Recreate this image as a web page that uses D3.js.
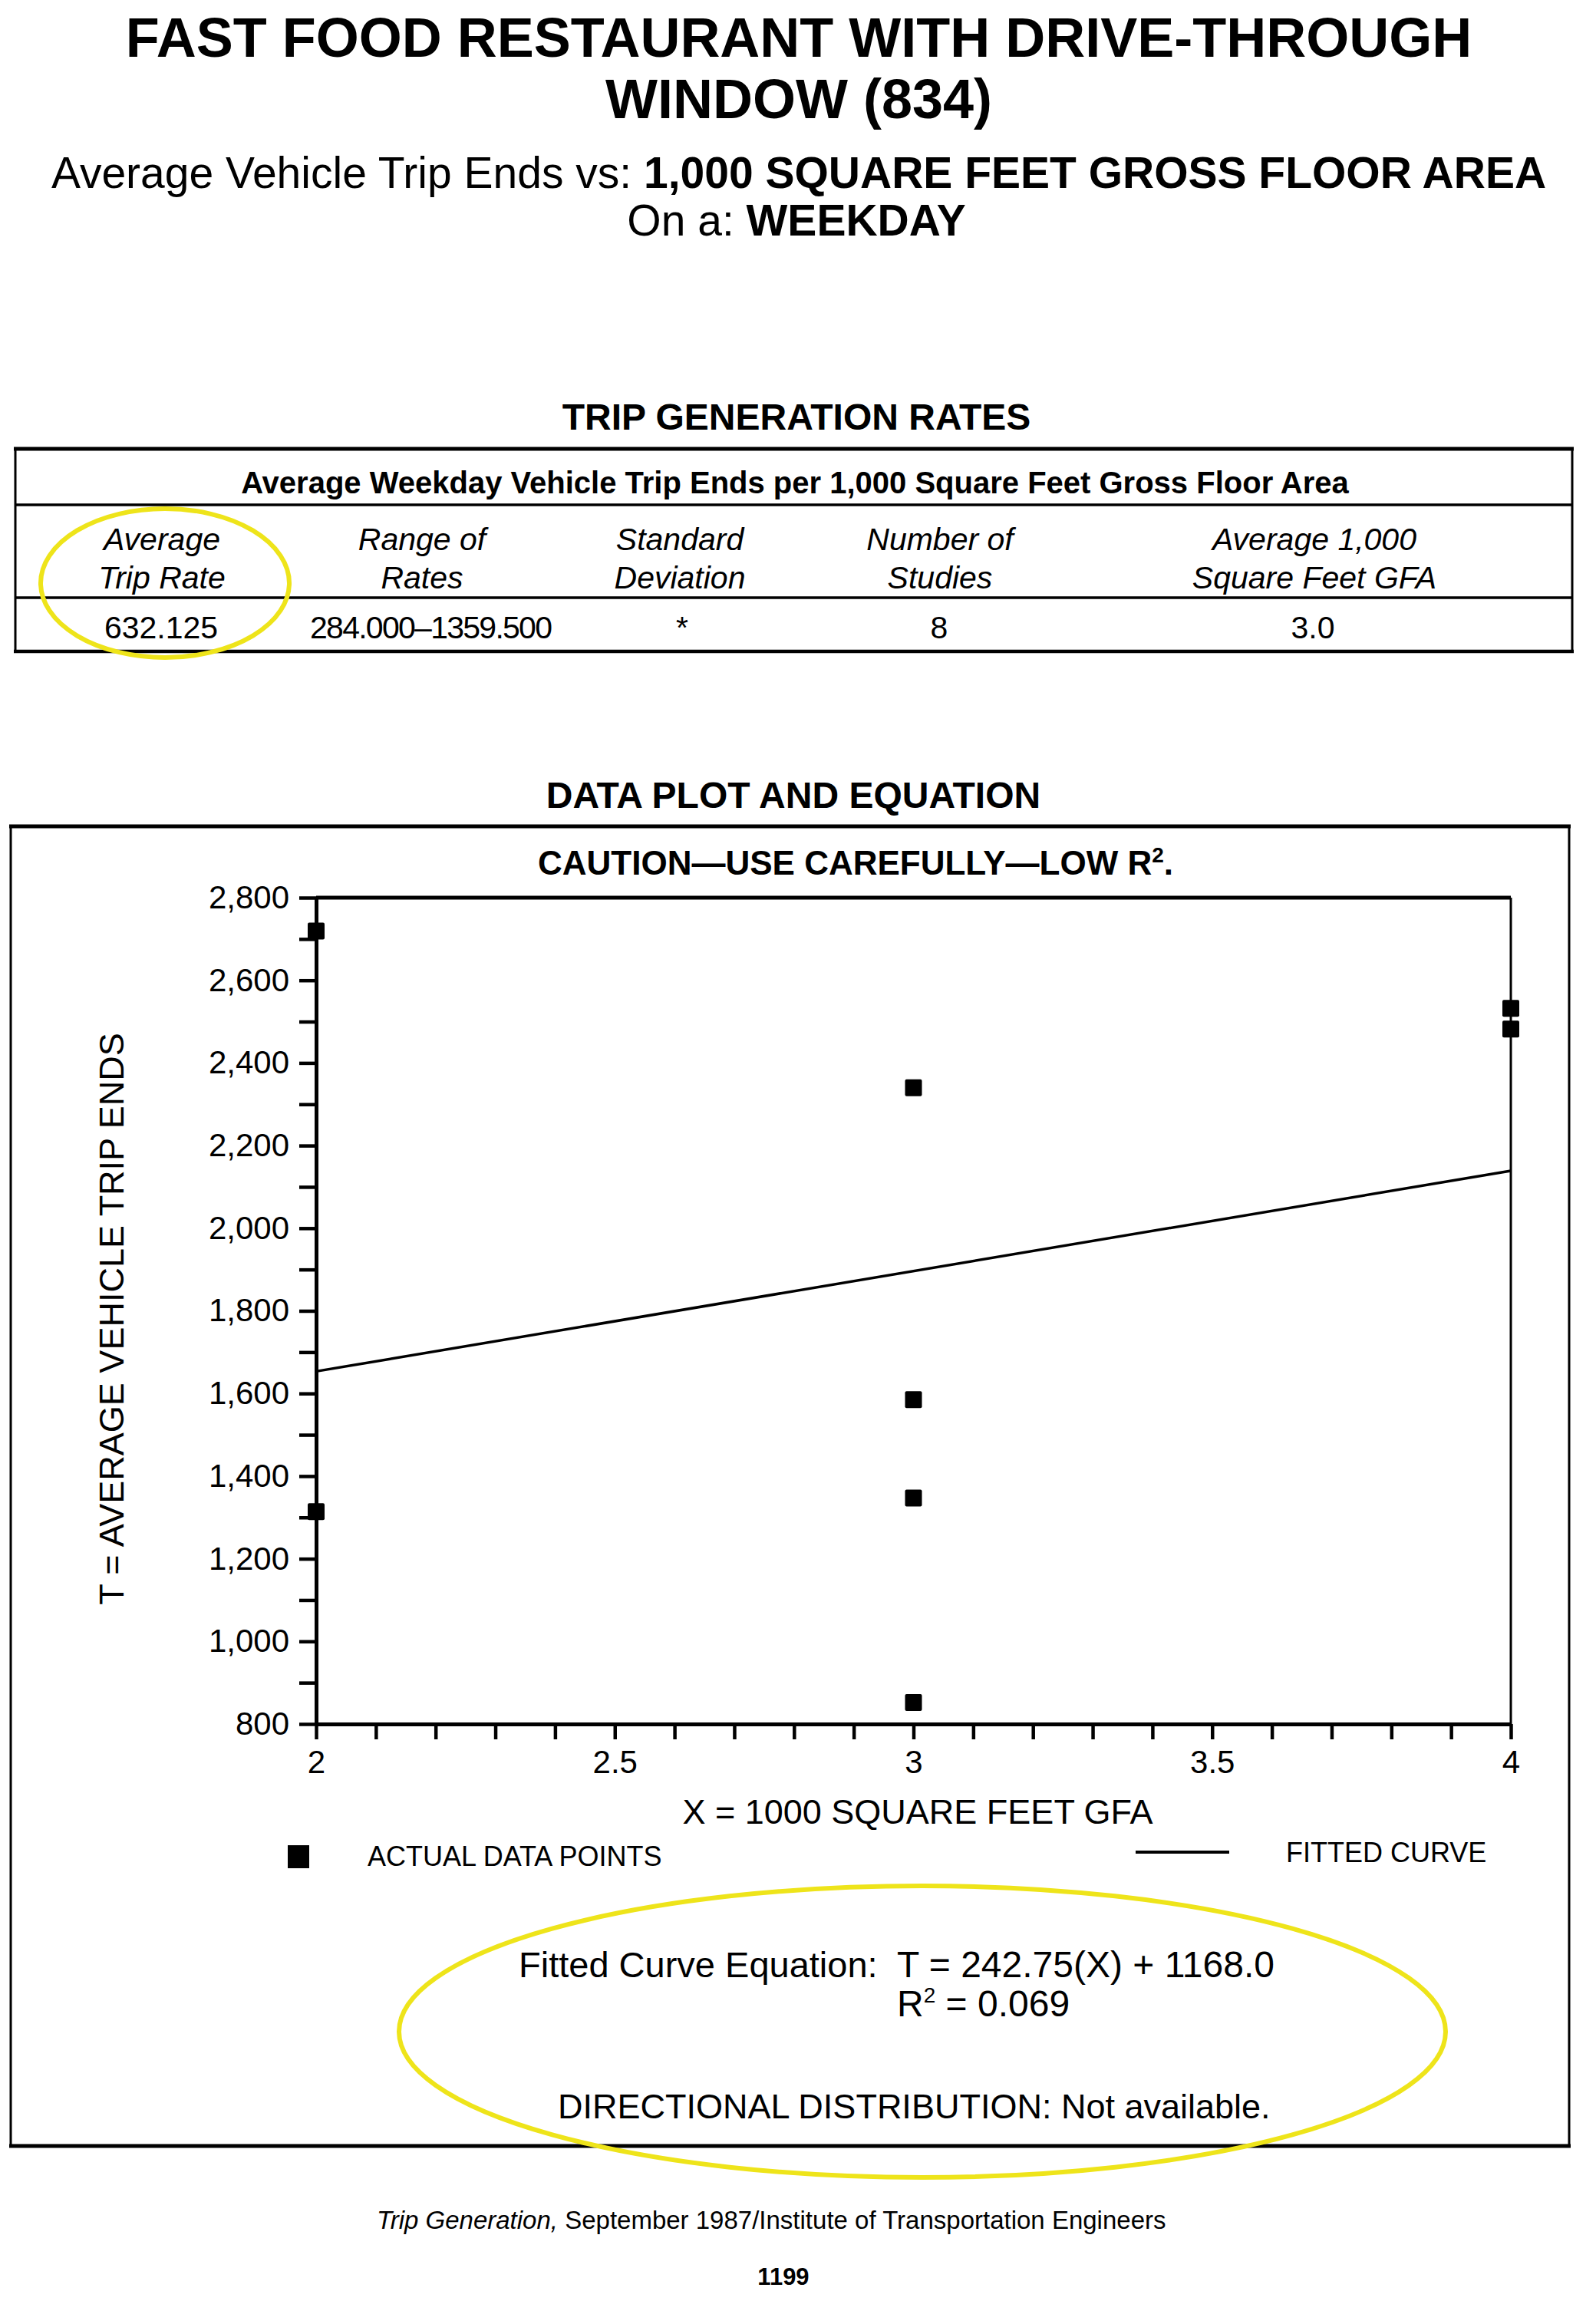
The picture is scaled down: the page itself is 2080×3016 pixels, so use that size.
<!DOCTYPE html>
<html>
<head>
<meta charset="utf-8">
<script src="https://cdn.jsdelivr.net/npm/d3@7"></script>
<style>
body { margin: 0; background: #fff; }
text { font-family: "Liberation Sans", Arial, Helvetica, sans-serif; fill: #000; }
.axis path, .axis line { stroke: #000; }
.axis text { font-size: 42px; fill: #000; font-family: "Liberation Sans", Arial, sans-serif; }
</style>
</head>
<body>
<div id="chart"></div>
<script>
//Data
var areaX = [2, 2, 3, 3, 3, 3, 4, 4];
var tripEnds = [2719, 1314, 2340, 1585, 1347, 852, 2532, 2482];
var fitSlope = 242.75;
var fitIntercept = 1168.0;

var yTicks = [800, 900, 1000, 1100, 1200, 1300, 1400, 1500, 1600, 1700, 1800, 1900, 2000, 2100, 2200, 2300, 2400, 2500, 2600, 2700, 2800];
var yLabelled = [800, 1000, 1200, 1400, 1600, 1800, 2000, 2200, 2400, 2600, 2800];
var xTicks = [2, 2.1, 2.2, 2.3, 2.4, 2.5, 2.6, 2.7, 2.8, 2.9, 3, 3.1, 3.2, 3.3, 3.4, 3.5, 3.6, 3.7, 3.8, 3.9, 4];
var xLabelled = [2, 2.5, 3, 3.5, 4];

var tableHeads = [["Average", "Trip Rate"], ["Range of", "Rates"], ["Standard", "Deviation"], ["Number of", "Studies"], ["Average 1,000", "Square Feet GFA"]];
var tableValues = ["632.125", "284.000\u20131359.500", "*", "8", "3.0"];

//Set up page
var svgWidth = 2080;
var svgHeight = 3016;

var svg = d3.select("#chart").append("svg")
    .attr("width", svgWidth)
    .attr("height", svgHeight);

svg.append("rect").attr("width", svgWidth).attr("height", svgHeight).attr("fill", "#fff");

function addText(x, y, size, weight, str, anchor, style) {
    return svg.append("text")
        .attr("x", x)
        .attr("y", y)
        .attr("font-size", size + "px")
        .attr("font-weight", weight || "normal")
        .attr("font-style", style || "normal")
        .attr("text-anchor", anchor || "middle")
        .text(str);
}

function addLine(x1, y1, x2, y2, w) {
    svg.append("line")
        .attr("x1", x1).attr("y1", y1)
        .attr("x2", x2).attr("y2", y2)
        .attr("stroke", "#000")
        .attr("stroke-width", w);
}

//Titles
addText(1041, 74, 72, "bold", "FAST FOOD RESTAURANT WITH DRIVE-THROUGH");
addText(1041, 154, 72, "bold", "WINDOW (834)");

var sub = svg.append("text")
    .attr("x", 1041).attr("y", 245)
    .attr("font-size", "57px")
    .attr("text-anchor", "middle");
sub.append("tspan").text("Average Vehicle Trip Ends vs: ");
sub.append("tspan").attr("font-weight", "bold").text("1,000 SQUARE FEET GROSS FLOOR AREA");

var sub2 = svg.append("text")
    .attr("x", 1038).attr("y", 307)
    .attr("font-size", "57px")
    .attr("text-anchor", "middle");
sub2.append("tspan").text("On a: ");
sub2.append("tspan").attr("font-weight", "bold").text("WEEKDAY");

//Trip generation table
addText(1038, 560, 48, "bold", "TRIP GENERATION RATES");

var tableLeft = 20, tableRight = 2049;
addLine(tableLeft - 2, 585, tableRight + 2, 585, 5);
addLine(tableLeft, 658, tableRight, 658, 3.5);
addLine(tableLeft, 779, tableRight, 779, 3.5);
addLine(tableLeft - 2, 849, tableRight + 2, 849, 4.5);
addLine(tableLeft, 585, tableLeft, 849, 3);
addLine(tableRight, 585, tableRight, 849, 3);

addText(1036, 643, 40, "bold", "Average Weekday Vehicle Trip Ends per 1,000 Square Feet Gross Floor Area");

var colCenters = [211, 550, 886, 1225, 1713];
var valCenters = [210, 562, 889, 1224, 1711];

tableHeads.forEach(function(h, i) {
    addText(colCenters[i], 717, 41, "normal", h[0], "middle", "italic");
    addText(colCenters[i], 767, 41, "normal", h[1], "middle", "italic");
});

tableValues.forEach(function(v, i) {
    var t = addText(valCenters[i], 832, 41, "normal", v);
    if (i === 1) {
        t.attr("textLength", 316).attr("lengthAdjust", "spacing");
    }
});

//Data plot section
addText(1034, 1053, 48, "bold", "DATA PLOT AND EQUATION");

var boxLeft = 14, boxRight = 2045, boxTop = 1077, boxBottom = 2797;
addLine(boxLeft - 2, boxTop, boxRight + 2, boxTop, 5);
addLine(boxLeft - 2, boxBottom, boxRight + 2, boxBottom, 5);
addLine(boxLeft, boxTop, boxLeft, boxBottom, 3);
addLine(boxRight, boxTop, boxRight, boxBottom, 3);

var caution = svg.append("text")
    .attr("x", 1115).attr("y", 1140)
    .attr("font-size", "44px")
    .attr("font-weight", "bold")
    .attr("text-anchor", "middle");
caution.append("tspan").text("CAUTION\u2014USE CAREFULLY\u2014LOW R");
caution.append("tspan").attr("font-size", "28px").attr("dy", "-16").text("2");
caution.append("tspan").attr("dy", "16").text(".");

//Scales
var plotLeft = 412, plotRight = 1969, plotTop = 1170, plotBottom = 2247;

var xLinearScale = d3.scaleLinear()
    .domain([2, 4])
    .range([plotLeft, plotRight]);

var yLinearScale = d3.scaleLinear()
    .domain([800, 2800])
    .range([plotBottom, plotTop]);

var commaFormat = d3.format(",");

var leftAxis = d3.axisLeft(yLinearScale)
    .tickValues(yTicks)
    .tickSize(22)
    .tickSizeOuter(0)
    .tickPadding(13)
    .tickFormat(function(d) { return yLabelled.indexOf(d) >= 0 ? commaFormat(d) : ""; });

var bottomAxis = d3.axisBottom(xLinearScale)
    .tickValues(xTicks)
    .tickSize(20)
    .tickSizeOuter(0)
    .tickPadding(14)
    .tickFormat(function(d) { return xLabelled.indexOf(d) >= 0 ? d3.format("")(d) : ""; });

var chartGroup = svg.append("g");

//Frame top and right
chartGroup.append("line")
    .attr("x1", plotLeft).attr("x2", plotRight)
    .attr("y1", yLinearScale(2800)).attr("y2", yLinearScale(2800))
    .attr("stroke", "#000").attr("stroke-width", 5);
chartGroup.append("line")
    .attr("x1", plotRight).attr("x2", plotRight)
    .attr("y1", yLinearScale(2800)).attr("y2", yLinearScale(800))
    .attr("stroke", "#000").attr("stroke-width", 3);

var yAxis = chartGroup.append("g")
    .classed("axis", true)
    .attr("transform", `translate(${plotLeft}, 0)`)
    .call(leftAxis);

var xAxis = chartGroup.append("g")
    .classed("axis", true)
    .attr("transform", `translate(0, ${plotBottom})`)
    .call(bottomAxis);

chartGroup.selectAll(".axis path").attr("stroke-width", 5);
chartGroup.selectAll(".axis line").attr("stroke-width", 4.5);

//Fitted line
var fitLine = d3.line()
    .x(d => xLinearScale(d))
    .y(d => yLinearScale(fitSlope * d + fitIntercept));

chartGroup.append("path")
    .datum([2, 4])
    .attr("d", fitLine)
    .attr("fill", "none")
    .attr("stroke", "#000")
    .attr("stroke-width", 3.5);

//Data points
var markSize = 22;
chartGroup.selectAll(".pt")
    .data(areaX)
    .enter()
    .append("rect")
    .classed("pt", true)
    .attr("x", d => xLinearScale(d) - markSize / 2)
    .attr("y", (d, i) => yLinearScale(tripEnds[i]) - markSize / 2)
    .attr("width", markSize)
    .attr("height", markSize)
    .attr("rx", 2)
    .attr("fill", "#000");

//Axis titles
svg.append("text")
    .attr("transform", "translate(161, 1719) rotate(-90)")
    .attr("font-size", "45px")
    .attr("text-anchor", "middle")
    .text("T = AVERAGE VEHICLE TRIP ENDS");

addText(1196, 2377, 45, "normal", "X = 1000 SQUARE FEET GFA");

//Legend
svg.append("rect")
    .attr("x", 375).attr("y", 2405)
    .attr("width", 28).attr("height", 30)
    .attr("fill", "#000");
addText(479, 2432, 36, "normal", "ACTUAL DATA POINTS", "start");
addLine(1480, 2414, 1602, 2414, 4);
addText(1676, 2427, 36, "normal", "FITTED CURVE", "start");

//Equation
addText(676, 2577, 47, "normal", "Fitted Curve Equation:", "start");
addText(1169, 2577, 48, "normal", "T = 242.75(X) + 1168.0", "start");
var r2 = svg.append("text")
    .attr("x", 1169).attr("y", 2628)
    .attr("font-size", "48px");
r2.append("tspan").text("R");
r2.append("tspan").attr("font-size", "28px").attr("dy", "-18").text("2");
r2.append("tspan").attr("dy", "18").text(" = 0.069");

addText(727, 2761, 45, "normal", "DIRECTIONAL DISTRIBUTION: Not available.", "start");

//Footer
var foot = svg.append("text")
    .attr("x", 491).attr("y", 2905)
    .attr("font-size", "33px");
foot.append("tspan").attr("font-style", "italic").text("Trip Generation,");
foot.append("tspan").text(" September 1987/Institute of Transportation Engineers");

addText(1021, 2978, 31, "bold", "1199");

//Yellow highlight ellipses
svg.append("ellipse")
    .attr("cx", 215).attr("cy", 760)
    .attr("rx", 162).attr("ry", 97)
    .attr("fill", "none")
    .attr("stroke", "#eee41a")
    .attr("stroke-width", 6);

svg.append("ellipse")
    .attr("cx", 1202).attr("cy", 2648)
    .attr("rx", 682).attr("ry", 190)
    .attr("fill", "none")
    .attr("stroke", "#eee41a")
    .attr("stroke-width", 6);
</script>
</body>
</html>
